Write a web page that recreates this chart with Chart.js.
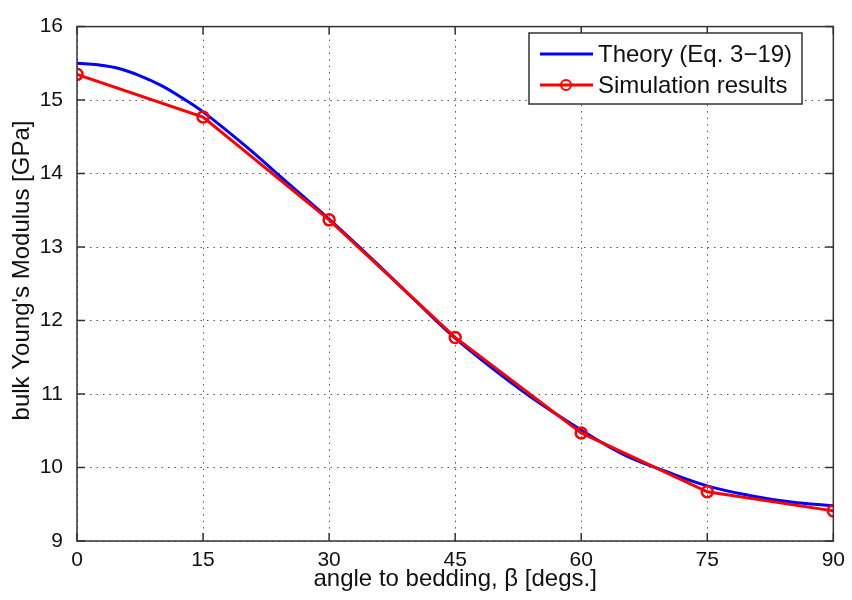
<!DOCTYPE html>
<html>
<head>
<meta charset="utf-8">
<script src="https://cdn.jsdelivr.net/npm/chart.js@4.4.0/dist/chart.umd.min.js"></script>
<style>
  html, body { margin: 0; padding: 0; background: #fff; }
  #wrap { width: 852px; height: 600px; }
</style>
</head>
<body>
<div id="wrap"><canvas id="chart" width="852" height="600"></canvas></div>
<script>
// theory curve (Eq. 3-19) (denser near 0 where it bends)
const theoryAngles = [0, 2.5, 5, 7.5, 10, 12.5, 15, 20, 25, 30, 35, 40, 45, 50, 55, 60, 65, 70, 75, 80, 85, 90];
const theoryModulus = [15.50, 15.48, 15.43, 15.33, 15.20, 15.03, 14.84, 14.38, 13.88, 13.38, 12.85, 12.30, 11.76,
                       11.30, 10.88, 10.51, 10.18, 9.95, 9.75, 9.62, 9.53, 9.48];

// simulation points
const simAngles = [0, 15, 30, 45, 60, 75, 90];
const simModulus = [15.35, 14.77, 13.37, 11.77, 10.47, 9.67, 9.41];

const xTicks = [0, 15, 30, 45, 60, 75, 90];
const yTicks = [9, 10, 11, 12, 13, 14, 15, 16];

const FONT = 'Liberation Sans, Arial, sans-serif';

const toPoints = (xs, ys) => xs.map((x, i) => ({ x: x, y: ys[i] }));

// box around the plot + inward ticks like matlab
const boxPlugin = {
    id: 'box',
    afterDatasetsDraw(chart) {
        const { ctx, chartArea: a, scales } = chart;
        ctx.save();
        ctx.strokeStyle = '#333';
        ctx.lineWidth = 1.5;
        ctx.beginPath();
        xTicks.forEach(v => {
            const px = scales.x.getPixelForValue(v);
            ctx.moveTo(px, a.bottom); ctx.lineTo(px, a.bottom - 8);
            ctx.moveTo(px, a.top); ctx.lineTo(px, a.top + 8);
        });
        yTicks.forEach(v => {
            const py = scales.y.getPixelForValue(v);
            ctx.moveTo(a.left, py); ctx.lineTo(a.left + 8, py);
            ctx.moveTo(a.right, py); ctx.lineTo(a.right - 8, py);
        });
        ctx.stroke();
        ctx.strokeRect(a.left, a.top, a.right - a.left, a.bottom - a.top);
        ctx.restore();
    }
};

// legend box in the upper right corner
const legendPlugin = {
    id: 'boxLegend',
    afterDraw(chart) {
        const { ctx } = chart;
        const ds = chart.data.datasets;
        const x0 = 529, y0 = 33, w = 273, h = 71;
        ctx.save();
        ctx.fillStyle = '#fff';
        ctx.fillRect(x0, y0, w, h);
        ctx.strokeStyle = '#333';
        ctx.lineWidth = 1.5;
        ctx.strokeRect(x0, y0, w, h);
        ctx.font = '24px ' + FONT;
        ctx.textBaseline = 'middle';
        ds.forEach((d, i) => {
            const y = y0 + 21 + i * 31;
            ctx.strokeStyle = d.borderColor;
            ctx.lineWidth = 3;
            ctx.beginPath();
            ctx.moveTo(x0 + 11, y);
            ctx.lineTo(x0 + 64, y);
            ctx.stroke();
            if (d.pointRadius > 0) {
                ctx.lineWidth = 2;
                ctx.beginPath();
                ctx.arc(x0 + 37, y, 5, 0, Math.PI * 2);
                ctx.stroke();
            }
            ctx.fillStyle = '#111';
            ctx.fillText(d.label, x0 + 69, y + 1);
        });
        ctx.restore();
    }
};

new Chart(document.getElementById('chart'), {
    type: 'line',
    data: {
        datasets: [{
            label: 'Theory (Eq. 3\u221219)',
            data: toPoints(theoryAngles, theoryModulus),
            borderColor: '#0000ff',
            borderWidth: 3,
            pointRadius: 0,
            tension: 0.4,
            order: 1
        }, {
            label: 'Simulation results',
            data: toPoints(simAngles, simModulus),
            borderColor: '#ff0000',
            borderWidth: 3,
            tension: 0,
            pointRadius: 5.5,
            pointBorderWidth: 2.5,
            pointBorderColor: '#ff0000',
            pointBackgroundColor: 'rgba(0,0,0,0)',
            order: 0
        }]
    },
    options: {
        responsive: false,
        animation: false,
        layout: { padding: { left: 0, right: 14, top: 18, bottom: 0 } },
        plugins: {
            legend: { display: false },
            tooltip: { enabled: false }
        },
        scales: {
            x: {
                type: 'linear',
                min: 0,
                max: 90,
                afterBuildTicks: s => { s.ticks = xTicks.map(v => ({ value: v })); },
                afterFit: s => { s.height = 59; },
                grid: { color: '#555', lineWidth: 1, drawTicks: false },
                border: { display: false, dash: [1.5, 5] },
                ticks: { color: '#111', font: { family: FONT, size: 21 }, padding: 7 },
                title: {
                    display: true,
                    text: 'angle to bedding, \u03b2 [degs.]',
                    color: '#111',
                    font: { family: FONT, size: 24 },
                    padding: { top: 0, bottom: 6 }
                }
            },
            y: {
                min: 9,
                max: 16,
                afterBuildTicks: s => { s.ticks = yTicks.map(v => ({ value: v })); },
                afterFit: s => { s.width = 77; },
                grid: { color: '#555', lineWidth: 1, drawTicks: false },
                border: { display: false, dash: [1.5, 5] },
                ticks: { color: '#111', font: { family: FONT, size: 21 }, padding: 14 },
                title: {
                    display: true,
                    // leading spaces nudge the title up a little, as in the original
                    text: "    bulk Young's Modulus [GPa]",
                    color: '#111',
                    font: { family: FONT, size: 24 },
                    padding: { top: 8, bottom: 0 }
                }
            }
        }
    },
    plugins: [boxPlugin, legendPlugin]
});
</script>
</body>
</html>
